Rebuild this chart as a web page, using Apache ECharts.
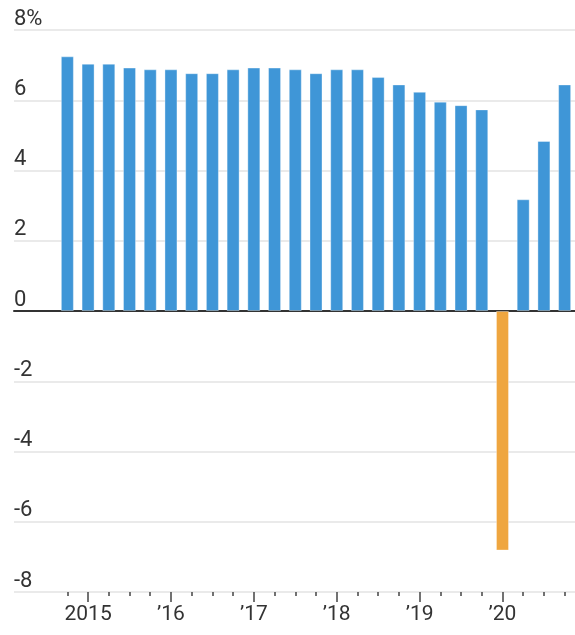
<!DOCTYPE html>
<html>
<head>
<meta charset="utf-8">
<script src="https://cdn.jsdelivr.net/npm/echarts@6/dist/echarts.min.js"></script>
<style>
  html, body { margin: 0; padding: 0; background: #fff; }
  #chart { width: 575px; height: 635px; }
</style>
</head>
<body>
<div id="chart"></div>
<script>
  // quarterly growth, year over year (%)
  const quarters = [
    '2014 Q4',
    '2015 Q1', '2015 Q2', '2015 Q3', '2015 Q4',
    '2016 Q1', '2016 Q2', '2016 Q3', '2016 Q4',
    '2017 Q1', '2017 Q2', '2017 Q3', '2017 Q4',
    '2018 Q1', '2018 Q2', '2018 Q3', '2018 Q4',
    '2019 Q1', '2019 Q2', '2019 Q3', '2019 Q4',
    '2020 Q1', '2020 Q2', '2020 Q3', '2020 Q4'
  ];
  const growth = [
    7.25,
    7.04, 7.04, 6.93, 6.88,
    6.88, 6.77, 6.77, 6.88,
    6.93, 6.93, 6.88, 6.77,
    6.88, 6.88, 6.66, 6.45,
    6.24, 5.96, 5.86, 5.74,
    -6.82, 3.18, 4.84, 6.45
  ];
  const yearStarts = ['2015 Q1', '2016 Q1', '2017 Q1', '2018 Q1', '2019 Q1', '2020 Q1'];
  const yearLabels = ['2015', '\u201916', '\u201917', '\u201918', '\u201919', '\u201920'];
  const yTicks = [-8, -6, -4, -2, 0, 2, 4, 6, 8];

  const BLUE = '#3f96d7';
  const ORANGE = '#efa63f';
  const TEXT = '#333333';
  const FONT = 'Roboto';

  const isYearStart = (i, v) => yearStarts.indexOf(v) >= 0;

  const chart = echarts.init(document.getElementById('chart'), null, { renderer: 'canvas' });

  chart.setOption({
    animation: false,
    grid: [
      // full-width grid for the gridlines and y labels
      { left: 14, right: 0, top: 30, bottom: 43 },
      // narrower grid for the bars
      { left: 57, right: 0, top: 30, bottom: 43 }
    ],
    xAxis: [
      {
        gridIndex: 0, type: 'value', min: 0, max: 1,
        axisLine: { show: true, onZero: true, lineStyle: { color: '#333', width: 2 } },
        axisTick: { show: false }, axisLabel: { show: false }, splitLine: { show: false }
      },
      {
        gridIndex: 1, type: 'category', data: quarters, position: 'bottom',
        axisLine: { show: false, onZero: false },
        axisTick: { show: true, alignWithLabel: true, interval: 0, length: 4, lineStyle: { color: '#444', width: 1.5 } },
        axisLabel: { show: false },
        splitLine: { show: false }
      },
      {
        gridIndex: 1, type: 'category', data: quarters, position: 'bottom',
        axisLine: { show: false, onZero: false },
        axisTick: { show: true, alignWithLabel: true, interval: isYearStart, length: 10, lineStyle: { color: '#444', width: 1.5 } },
        axisLabel: {
          interval: isYearStart,
          margin: 12,
          color: TEXT,
          fontFamily: FONT,
          fontSize: 21,
          formatter: v => yearLabels[yearStarts.indexOf(v)] || ''
        },
        splitLine: { show: false }
      }
    ],
    yAxis: [
      {
        gridIndex: 0, type: 'value', min: -8, max: 8, interval: 2,
        axisLine: { show: false }, axisTick: { show: false },
        splitLine: { show: true, lineStyle: { color: '#e3e3e3', width: 1.5 } },
        axisLabel: {
          inside: true,
          margin: 0,
          color: TEXT,
          fontFamily: FONT,
          fontSize: 22,
          verticalAlign: 'bottom',
          padding: [0, 0, 0, 0],
          customValues: yTicks,
          formatter: v => v === 8 ? '8%' : String(v)
        }
      },
      {
        gridIndex: 1, type: 'value', min: -8, max: 8, interval: 2,
        show: false
      }
    ],
    series: [{
      type: 'bar',
      xAxisIndex: 1,
      yAxisIndex: 1,
      data: growth,
      barWidth: 13,
      itemStyle: {
        color: p => p.value < 0 ? ORANGE : BLUE,
        borderColor: 'rgba(255,255,255,0.35)',
        borderWidth: 1
      }
    }]
  });
</script>
</body>
</html>
